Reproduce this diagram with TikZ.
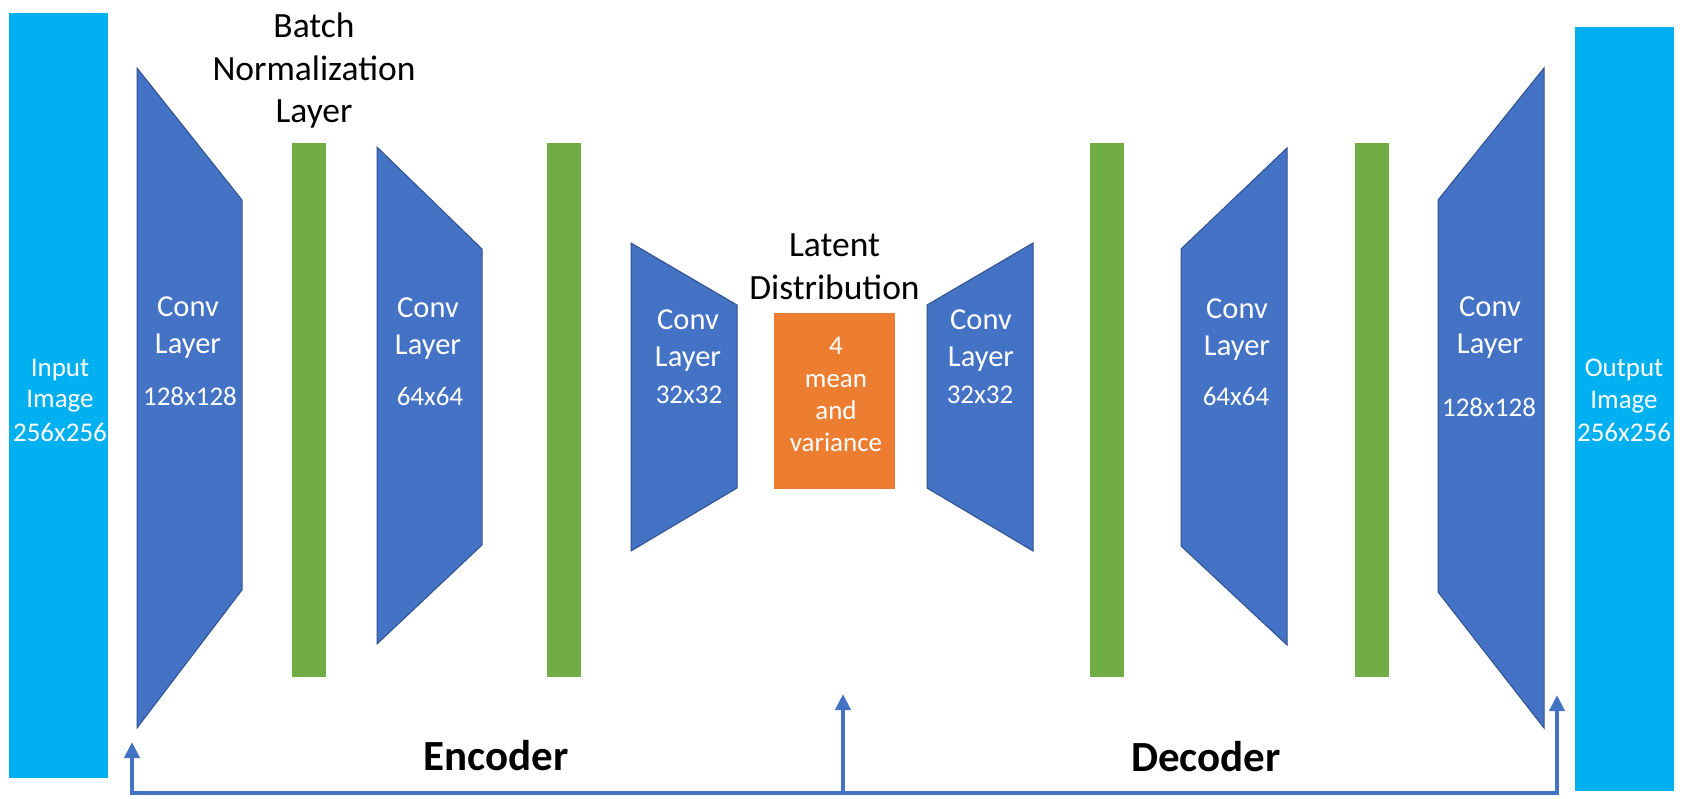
\documentclass[tikz,border=0pt]{standalone}
\usepackage{fontspec}
\setmainfont{Carlito}
\usetikzlibrary{arrows.meta}
\definecolor{imgcyan}{HTML}{00B0F0}
\definecolor{convblue}{HTML}{4472C4}
\definecolor{convedge}{HTML}{2F528F}
\definecolor{bngreen}{HTML}{70AD47}
\definecolor{latorange}{HTML}{ED7D31}
\begin{document}
\begin{tikzpicture}[x=1pt,y=-1pt,
  imgbox/.style={fill=imgcyan,draw=none,inner sep=0pt,minimum width=99pt},
  bnbar/.style={fill=bngreen,draw=none,inner sep=0pt,minimum width=34pt,minimum height=534pt},
  latbox/.style={fill=latorange,draw=none,inner sep=0pt,minimum width=121pt,minimum height=176pt},
  convshape/.style={fill=convblue,draw=convedge,line width=1pt,line join=miter},
  wbig/.style={text=white,font=\fontsize{30.5}{36}\selectfont,anchor=base,inner sep=0pt},
  wsmall/.style={text=white,font=\fontsize{27}{32}\selectfont,anchor=base,inner sep=0pt},
  btxt/.style={text=black,font=\fontsize{35.5}{42}\selectfont,anchor=base,inner sep=0pt},
  ttl/.style={text=black,font=\bfseries\fontsize{43}{50}\selectfont,anchor=base,inner sep=0pt},
  linkline/.style={draw=convblue,line width=4pt,line join=miter},
  tipend/.style={-{Triangle[length=16pt,width=15pt]}}
]
\useasboundingbox (0,0) rectangle (1687,799);

% input / output images
\node[imgbox,minimum height=765pt] (input) at (58.5,395.5) {};
\node[imgbox,minimum height=764pt] (output) at (1624.5,409) {};

% batch norm bars
\node[bnbar] (bn1) at (308.5,410) {};
\node[bnbar] (bn2) at (564,410) {};
\node[bnbar] (bn3) at (1107,410) {};
\node[bnbar] (bn4) at (1372,410) {};

% latent box
\node[latbox] (lat) at (834.5,401) {};

% conv layers
\draw[convshape] (137,68) -- (242,200) -- (242,590) -- (137,728) -- cycle;
\draw[convshape] (377,147) -- (482,249) -- (482,545) -- (377,644) -- cycle;
\draw[convshape] (631,243) -- (737,305) -- (737,488) -- (631,551) -- cycle;
\draw[convshape] (927,305) -- (1033,243) -- (1033,551) -- (927,488) -- cycle;
\draw[convshape] (1181,249) -- (1287,148) -- (1287,645) -- (1181,546) -- cycle;
\draw[convshape] (1438,200) -- (1544,68) -- (1544,728) -- (1438,592) -- cycle;

% texts: input / output
\node[wsmall] (inA) at (60,377) {Input};
\node[wsmall] (inB) at (60,408) {Image};
\node[wsmall] (inC) at (60,442) {256x256};
\node[wsmall] (outA) at (1624,377) {Output};
\node[wsmall] (outB) at (1624,409) {Image};
\node[wsmall] (outC) at (1624,442) {256x256};

% conv texts
\node[wbig] (c1a) at (188,317) {Conv};
\node[wbig] (c1b) at (188,354) {Layer};
\node[wsmall] (c1c) at (190,406) {128x128};
\node[wbig] (c2a) at (428,318) {Conv};
\node[wbig] (c2b) at (428,355) {Layer};
\node[wsmall] (c2c) at (430,406) {64x64};
\node[wbig] (c3a) at (688,330) {Conv};
\node[wbig] (c3b) at (688,367) {Layer};
\node[wsmall] (c3c) at (689,404) {32x32};
\node[wbig] (c4a) at (981,330) {Conv};
\node[wbig] (c4b) at (981,367) {Layer};
\node[wsmall] (c4c) at (980,404) {32x32};
\node[wbig] (c5a) at (1237,319) {Conv};
\node[wbig] (c5b) at (1237,356) {Layer};
\node[wsmall] (c5c) at (1236,406) {64x64};
\node[wbig] (c6a) at (1490,317) {Conv};
\node[wbig] (c6b) at (1490,354) {Layer};
\node[wsmall] (c6c) at (1489,417) {128x128};

% latent texts
\node[wsmall] (l1) at (836,355) {4};
\node[wsmall] (l2) at (836,388) {mean};
\node[wsmall] (l3) at (836,420) {and};
\node[wsmall] (l4) at (836,452) {variance};

% black labels
\node[btxt] (bnA) at (314,38) {Batch};
\node[btxt] (bnB) at (314,81) {Normalization};
\node[btxt] (bnC) at (314,123) {Layer};
\node[btxt] (ldA) at (834.5,257) {Latent};
\node[btxt] (ldB) at (834.5,300) {Distribution};
\node[ttl] (enc) at (496,770) {Encoder};
\node[ttl] (dec) at (1206,771) {Decoder};

% arrows
\coordinate (tipL) at (132,742);
\coordinate (cornL) at (132,793);
\coordinate (tipM) at (843,694);
\coordinate (baseM) at (843,793);
\coordinate (tipR) at (1557,695);
\coordinate (cornR) at (1557,793);
\draw[linkline,{Triangle[length=16pt,width=15pt]}-{Triangle[length=16pt,width=15pt]}] (tipL) -- (cornL) -- (cornR) -- (tipR);
\draw[linkline,tipend] (baseM) -- (tipM);
\end{tikzpicture}
\end{document}
